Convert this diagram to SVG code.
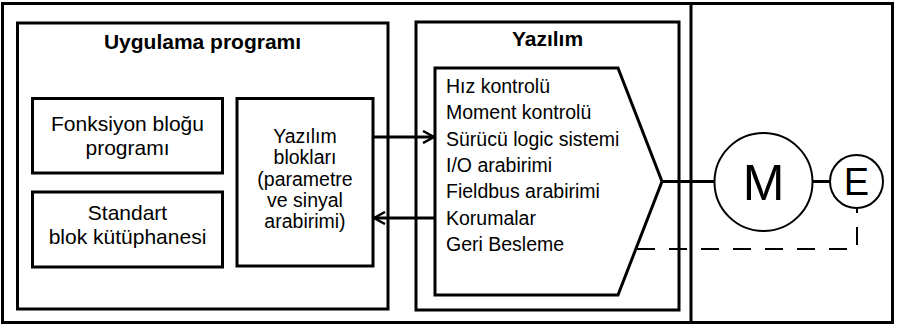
<svg xmlns="http://www.w3.org/2000/svg" width="897" height="326" viewBox="0 0 897 326">
  <style>
    .frame { fill: none; stroke: #000; stroke-width: 3; }
    .thin { fill: none; stroke: #000; stroke-width: 2; }
    .link { fill: none; stroke: #000; stroke-width: 3; }
    .dash { fill: none; stroke: #000; stroke-width: 2; stroke-dasharray: 18 14; }
    .title { font-family: "Liberation Sans", Arial, sans-serif; font-size: 21px; font-weight: bold; fill: #000; }
    .box { font-family: "Liberation Sans", Arial, sans-serif; font-size: 21px; fill: #000; }
    .blocks { font-family: "Liberation Sans", Arial, sans-serif; font-size: 19.5px; fill: #000; }
    .label { font-family: "Liberation Sans", Arial, sans-serif; font-size: 19.5px; fill: #000; }
    .mid { text-anchor: middle; }
    .big { font-family: "Liberation Sans", Arial, sans-serif; fill: #000; text-anchor: middle; }
  </style>
  <defs>
    <marker id="chevron" viewBox="0 0 14 14" refX="12" refY="7" markerWidth="14" markerHeight="14" markerUnits="userSpaceOnUse" orient="auto">
      <path d="M1,1 L12,7 L1,13" fill="none" stroke="#000" stroke-width="2.5"/>
    </marker>
  </defs>

  <rect width="897" height="326" fill="#fff"/>

  <!-- outer frame and the divider between drive and motor side -->
  <g id="frame">
    <rect class="frame" x="2.5" y="3.5" width="890" height="319"/>
    <line class="frame" x1="691" y1="3.5" x2="691" y2="322.5"/>
  </g>

  <!-- application program -->
  <g id="application">
    <rect class="frame" x="17.5" y="23" width="370.5" height="286"/>
    <text class="title mid" x="202.5" y="49">Uygulama programı</text>
  </g>

  <g id="function-block">
    <rect class="frame" x="32.5" y="98.5" width="190" height="74.5"/>
    <text class="box mid" x="127.5" y="131">Fonksiyon bloğu</text>
    <text class="box mid" x="127.5" y="155">programı</text>
  </g>

  <g id="block-library">
    <rect class="frame" x="32.5" y="192" width="190" height="75"/>
    <text class="box mid" x="127.5" y="220">Standart</text>
    <text class="box mid" x="127.5" y="244">blok kütüphanesi</text>
  </g>

  <g id="software-blocks">
    <rect class="frame" x="237" y="98.5" width="136" height="167.5"/>
    <text class="blocks mid" x="305" y="143">Yazılım</text>
    <text class="blocks mid" x="305" y="164">blokları</text>
    <text class="blocks mid" x="305" y="186">(parametre</text>
    <text class="blocks mid" x="305" y="206.5">ve sinyal</text>
    <text class="blocks mid" x="305" y="228">arabirimi)</text>
  </g>

  <!-- firmware -->
  <g id="firmware">
    <rect class="frame" x="416" y="22" width="263" height="288"/>
    <text class="title mid" x="547.5" y="46">Yazılım</text>
  </g>

  <g id="firmware-functions">
    <polygon class="frame" points="435,68 618,68 662,181.5 618,295 435,295"/>
    <text class="label" x="446" y="93">Hız kontrolü</text>
    <text class="label" x="446" y="119.3">Moment kontrolü</text>
    <text class="label" x="446" y="145.6">Sürücü logic sistemi</text>
    <text class="label" x="446" y="171.9">I/O arabirimi</text>
    <text class="label" x="446" y="198.2">Fieldbus arabirimi</text>
    <text class="label" x="446" y="224.5">Korumalar</text>
    <text class="label" x="446" y="250.8">Geri Besleme</text>
  </g>

  <!-- motor and encoder -->
  <g id="motor">
    <circle class="thin" cx="763.5" cy="182" r="49"/>
    <text class="big" x="763.5" y="200" font-size="50">M</text>
  </g>

  <g id="encoder">
    <circle class="thin" cx="856.5" cy="181.5" r="26.5"/>
    <text class="big" x="856.5" y="195" font-size="38">E</text>
  </g>

  <g id="connectors">
    <line class="link" x1="373" y1="137" x2="434" y2="137" marker-end="url(#chevron)"/>
    <line class="link" x1="435" y1="218" x2="374" y2="218" marker-end="url(#chevron)"/>
    <line class="link" x1="662" y1="181.5" x2="714.5" y2="181.5"/>
    <line class="link" x1="812.5" y1="181.5" x2="830" y2="181.5"/>
    <path class="dash" d="M637,249 H857 V208"/>
  </g>
</svg>
